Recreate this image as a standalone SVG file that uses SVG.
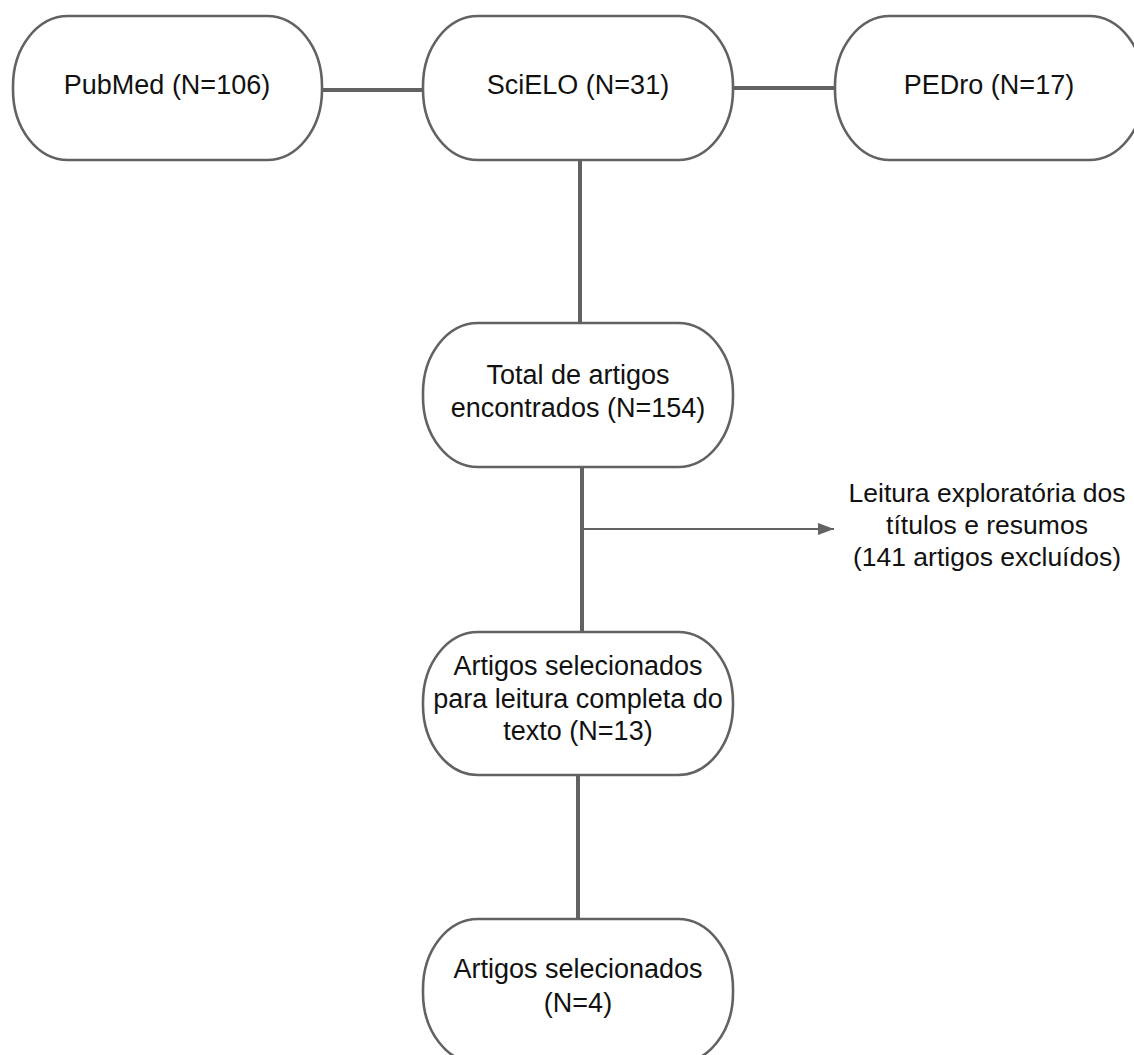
<svg xmlns="http://www.w3.org/2000/svg" width="1134" height="1055" viewBox="0 0 1134 1055">
<style>
.node rect{fill:#fff;stroke:#626262;stroke-width:2.6}
.node text{font-family:"Liberation Sans",Arial,sans-serif;font-size:27px;fill:#111;text-anchor:middle}
.conn{stroke:#626262;stroke-width:4;fill:none}
.thin{stroke:#626262;stroke-width:2;fill:none}
.lbl{font-family:"Liberation Sans",Arial,sans-serif;font-size:26.5px;fill:#111;text-anchor:middle}
</style>
<defs>
<marker id="arr" markerWidth="16" markerHeight="12" refX="16" refY="6" orient="auto" markerUnits="userSpaceOnUse">
<path d="M0,0 L16,6 L0,12 Z" fill="#626262"/>
</marker>
</defs>
<rect width="1134" height="1055" fill="#fff"/>
<g id="connectors">
<line class="conn" x1="322" y1="90" x2="423" y2="90"/>
<line class="conn" x1="733" y1="88" x2="835" y2="88"/>
<line class="conn" x1="580" y1="160" x2="580" y2="323"/>
<line class="conn" x1="582" y1="467" x2="582" y2="632"/>
<line class="thin" x1="582" y1="529" x2="834" y2="529" marker-end="url(#arr)"/>
<line class="conn" x1="578" y1="775" x2="578" y2="919"/>
</g>
<g id="pubmed" class="node">
<rect x="13" y="16" width="309" height="144" rx="55" ry="70"/>
<text x="167" y="94">PubMed (N=106)</text>
</g>
<g id="scielo" class="node">
<rect x="423" y="16" width="310" height="144" rx="55" ry="70"/>
<text x="578" y="94">SciELO (N=31)</text>
</g>
<g id="pedro" class="node">
<rect x="835" y="16" width="309" height="144" rx="55" ry="70"/>
<text x="989" y="94">PEDro (N=17)</text>
</g>
<g id="total" class="node">
<rect x="423" y="323" width="310" height="144" rx="55" ry="70"/>
<text x="578" y="384">Total de artigos</text>
<text x="578" y="417">encontrados (N=154)</text>
</g>
<g id="exclusion">
<text class="lbl" x="987" y="502">Leitura exploratória dos</text>
<text class="lbl" x="987" y="534">títulos e resumos</text>
<text class="lbl" x="987" y="566">(141 artigos excluídos)</text>
</g>
<g id="leitura" class="node">
<rect x="423" y="632" width="310" height="143" rx="55" ry="70"/>
<text x="578" y="675">Artigos selecionados</text>
<text x="578" y="708">para leitura completa do</text>
<text x="578" y="740">texto (N=13)</text>
</g>
<g id="final" class="node">
<rect x="423" y="919" width="310" height="144" rx="55" ry="70"/>
<text x="578" y="978">Artigos selecionados</text>
<text x="578" y="1012">(N=4)</text>
</g>
</svg>
